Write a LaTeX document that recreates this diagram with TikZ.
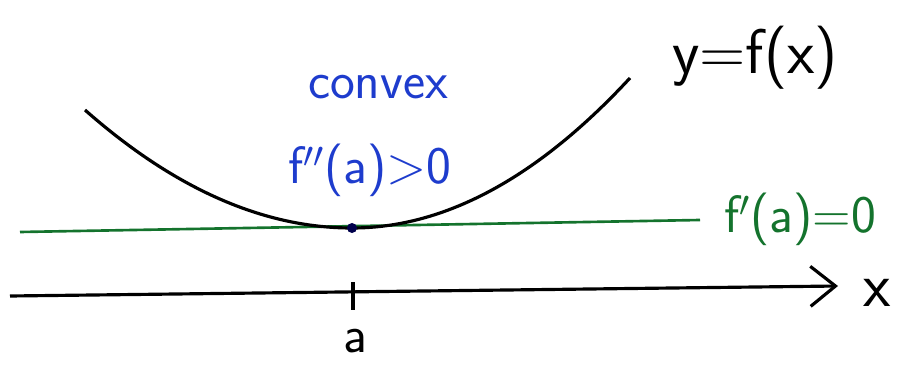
\documentclass[tikz,border=0pt]{standalone}
\usepackage{tikz}
\usetikzlibrary{arrows.meta}
\definecolor{inkblue}{RGB}{30,60,205}
\definecolor{inkgreen}{RGB}{20,115,45}

\begin{document}
\begin{tikzpicture}[
    font=\sffamily,
    curve/.style={line width=1.8pt, black},
    tangent/.style={line width=1.5pt, inkgreen},
    axis/.style={line width=1.8pt, -{Straight Barb[length=5mm,width=8mm,line width=1.8pt]}},
    bluelabel/.style={text=inkblue, inner sep=0pt},
    greenlabel/.style={text=inkgreen, inner sep=0pt},
    blacklabel/.style={text=black, inner sep=0pt}
]
\useasboundingbox (0,0) rectangle (18.16,7.3);

\coordinate (Left) at (1.70,5.10);
\coordinate (Min) at (7.04,2.74);
\coordinate (Right) at (12.60,5.74);
\coordinate (TanStart) at (0.40,2.66);
\coordinate (TanEnd) at (14.00,2.90);
\coordinate (AxisStart) at (0.20,1.38);
\coordinate (AxisEnd) at (16.76,1.58);
\coordinate (TickTop) at (7.06,1.66);
\coordinate (TickBot) at (7.06,1.10);

\node[bluelabel, font=\sffamily\fontsize{30}{34}\selectfont] (Convex) at (7.56,5.55) {convex};
\node[bluelabel, font=\sffamily\fontsize{30}{34}\selectfont] (Second) at (7.40,3.90) {f$''$(a)>0};
\node[blacklabel, font=\sffamily\fontsize{36}{40}\selectfont] (Func) at (15.10,6.15) {y=f(x)};
\node[greenlabel, font=\sffamily\fontsize{30}{34}\selectfont] (First) at (16.00,2.92) {f$'$(a)=0};
\node[blacklabel, font=\sffamily\fontsize{36}{40}\selectfont] (Xlabel) at (17.54,1.45) {x};
\node[blacklabel, font=\sffamily\fontsize{30}{34}\selectfont] (Alabel) at (7.10,0.48) {a};

\draw[tangent] (TanStart) -- (TanEnd);
\draw[curve] (Left) .. controls (3.48,3.53) and (5.26,2.74) .. (Min)
    .. controls (8.89,2.74) and (10.75,3.74) .. (Right);
\fill[black!70!blue] (Min) circle (0.1);
\draw[axis] (AxisStart) -- (AxisEnd);
\draw[line width=1.8pt] (TickTop) -- (TickBot);
\end{tikzpicture}
\end{document}
